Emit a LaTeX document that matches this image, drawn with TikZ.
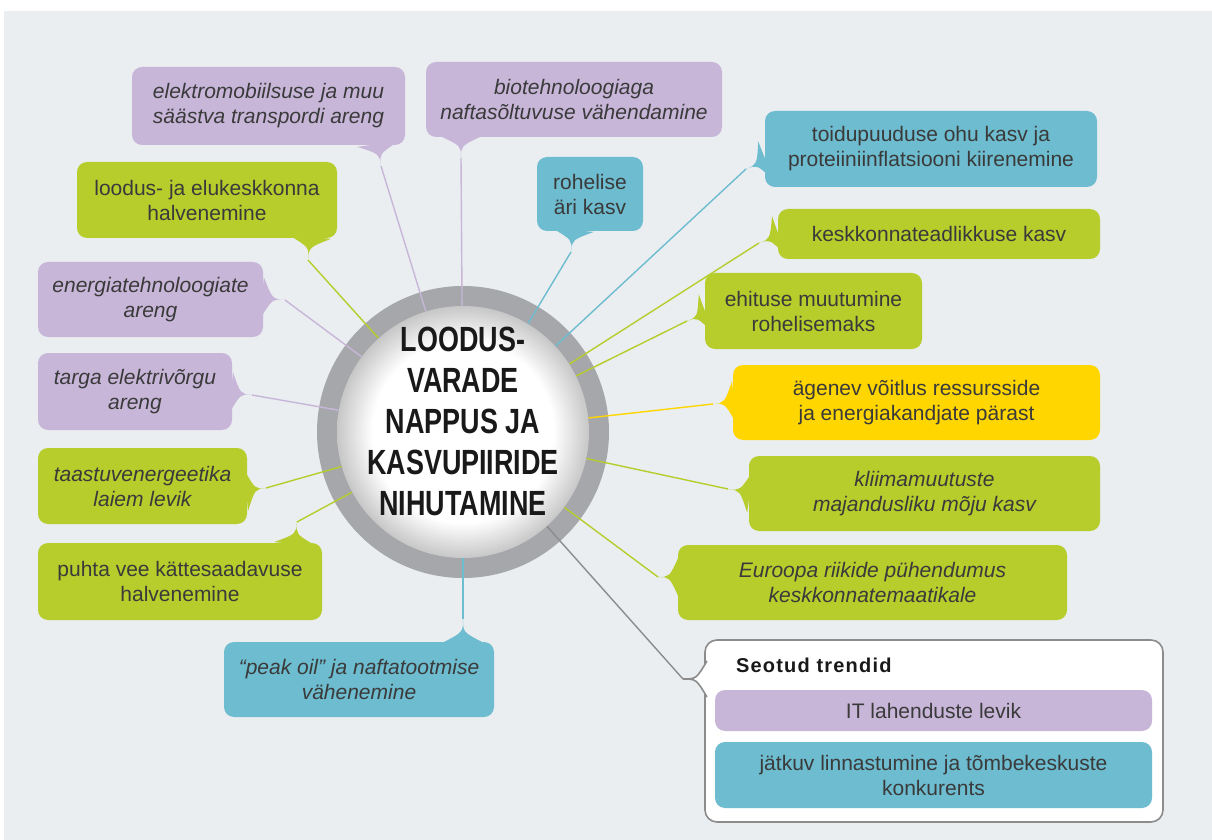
\documentclass[tikz,border=0pt]{standalone}
\usepackage{fontspec}
\setmainfont{Liberation Sans}
\newfontfamily\corefont[FakeStretch=0.77]{Liberation Sans}
\usetikzlibrary{calc}
\definecolor{taust}{HTML}{EAEEF1}
\definecolor{lila}{HTML}{C8B6D9}
\definecolor{roheline}{HTML}{B6CD2C}
\definecolor{sinine}{HTML}{6DBCCF}
\definecolor{kollane}{HTML}{FFD600}
\definecolor{rong}{HTML}{A6A7AB}
\definecolor{tekst}{HTML}{3A3A3A}
\pgfdeclareradialshading{tuum}{\pgfpointorigin}{color(0bp)=(white); color(18bp)=(white); color(25bp)=(black!22); color(50bp)=(black!22)}

\begin{document}
\begin{tikzpicture}[x=0.5pt, y=-0.5pt, % Pixelkoordinaten
    kast/.style={rounded corners=5pt, align=center, text=tekst, inner sep=0pt},
    kastfont/.style={font=\fontsize{10.5}{12.5}\selectfont #1},
    joon/.style={draw=#1, line width=0.7pt}]
    \useasboundingbox (0,0) rectangle (1212,840);
    % Hintergrund
    \fill[taust] (4,11) rectangle (1212,840);
    % Ring und Kern
    \fill[rong] (463,432) circle (73pt);
    \node[circle, minimum size=126pt, inner sep=0pt, shading=tuum] (core) at (463,432) {};
    \node[font=\corefont\bfseries\fontsize{17.5}{20.5}\selectfont, align=center, text=black!90] (pealkiri) at (463,421)
        {LOODUS-\\VARADE\\NAPPUS JA\\KASVUPIIRIDE\\NIHUTAMINE};
    % Trendikastid
    \foreach \n/\x/\y/\w/\h/\c/\f/\t in {
        b1/268.5/106/273/78/lila/\itshape/elektromobiilsuse ja muu\\säästva transpordi areng,
        b2/574/99.5/296/75/lila/\itshape/biotehnoloogiaga\\naftasõltuvuse vähendamine,
        b3/207/200/260/76/roheline/\upshape/loodus- ja elukeskkonna\\halvenemine,
        b4/590/194/106/74/sinine/\upshape/rohelise\\äri kasv,
        b5/931/149/332/76/sinine/\upshape/toidupuuduse ohu kasv ja\\proteiiniinflatsiooni kiirenemine,
        b6/939/234/322/50/roheline/\upshape/keskkonnateadlikkuse kasv,
        b7/813.5/311/217/76/roheline/\upshape/ehituse muutumine\\rohelisemaks,
        b8/916.5/402.5/367/75/kollane/\upshape/ägenev võitlus ressursside\\ja energiakandjate pärast,
        b9/924.5/493.5/351/75/roheline/\itshape/kliimamuutuste\\majandusliku mõju kasv,
        b10/872.5/582.5/389/75/roheline/\itshape/Euroopa riikide pühendumus\\keskkonnatemaatikale,
        b12/359/679.5/270/75/sinine/\itshape/“peak oil” ja naftatootmise\\vähenemine,
        b13/180/581.5/284/77/roheline/\upshape/puhta vee kättesaadavuse\\halvenemine,
        b14/142.5/486/209/76/roheline/\itshape/taastuvenergeetika\\laiem levik,
        b15/135/391.5/194/77/lila/\itshape/targa elektrivõrgu\\areng,
        b16/150.5/299.5/225/75/lila/\itshape/energiatehnoloogiate\\areng} {
        \node[kast, kastfont=\f, fill=\c, minimum width=\w*0.5pt, minimum height=\h*0.5pt] (\n) at (\x,\y) {\t};
    }
    % Zipfel und Verbindungen zum Kern
    \foreach \n/\c/\bx/\by/\tx/\ty in {
        b1/lila/378/144/381/166, b2/lila/461/136/461/158, b3/roheline/310/237/308/260,
        b4/sinine/573/230/571/252, b5/sinine/766/161/746/169, b6/roheline/779/236/759/243,
        b7/roheline/706/314/687/321, b8/kollane/734/402/713/404, b9/roheline/750/492/728/489,
        b10/roheline/679/577/658/577, b12/sinine/463/643/463/619, b13/roheline/295/544/297/522,
        b14/roheline/246/490/266/488, b15/lila/231/393/252/395, b16/lila/262/298/285/300} {
        \coordinate (\n-ots) at (\tx,\ty);
        \fill[\c] ($(\bx,\by)!10.5pt!90:(\n-ots)$) .. controls ($(\bx,\by)!0.45!(\n-ots)$) .. (\n-ots)
            .. controls ($(\bx,\by)!0.45!(\n-ots)$) .. ($(\bx,\by)!10.5pt!-90:(\n-ots)$) -- cycle;
        \draw[joon=\c] (\n-ots) -- (core);
    }
    % Seotud trendid
    \node[fill=white, draw=black!45, line width=0.8pt, rounded corners=6pt, minimum width=229pt, minimum height=91pt] (seos) at (934,731) {};
    \coordinate (seos-ots) at (683,679);
    \fill[white] ($(707,679)!9pt!90:(seos-ots)$) .. controls ($(707,679)!0.45!(seos-ots)$) .. (seos-ots)
        .. controls ($(707,679)!0.45!(seos-ots)$) .. ($(707,679)!9pt!-90:(seos-ots)$) -- cycle;
    \draw[black!45, line width=0.8pt] ($(707,679)!9pt!90:(seos-ots)$) .. controls ($(707,679)!0.45!(seos-ots)$) .. (seos-ots)
        .. controls ($(707,679)!0.45!(seos-ots)$) .. ($(707,679)!9pt!-90:(seos-ots)$);
    \draw[joon=black!45] (seos-ots) -- (core);
    \node[anchor=west, text=black!90, font=\bfseries\addfontfeature{LetterSpace=6}\fontsize{10}{12}\selectfont] (seos-pealkiri) at (729,665) {Seotud trendid};
    \node[kast, kastfont=\upshape, fill=lila, minimum width=218.5pt, minimum height=20.5pt] (s1) at (933.5,710.5) {IT lahenduste levik};
    \node[kast, kastfont=\upshape, fill=sinine, minimum width=218.5pt, minimum height=33pt] (s2) at (933.5,775) {jätkuv linnastumine ja tõmbekeskuste\\konkurents};
\end{tikzpicture}
\end{document}
